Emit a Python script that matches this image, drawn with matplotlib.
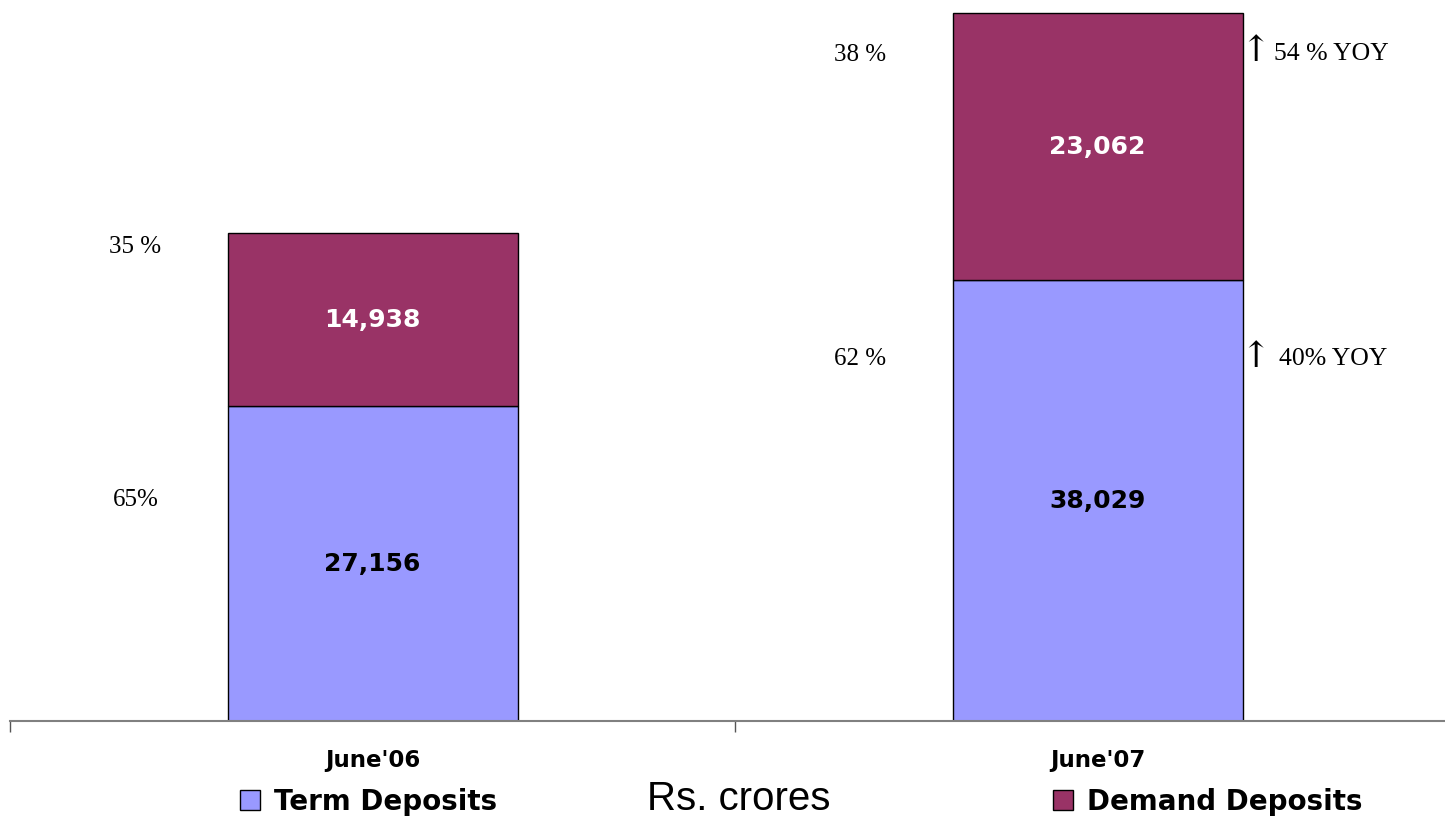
import matplotlib
matplotlib.use("Agg")
import matplotlib.pyplot as plt
from matplotlib.patches import Patch

categories = ["June'06", "June'07"]
term_deposits = [27156, 38029]
demand_deposits = [14938, 23062]
term_share = ["65%", "62 %"]
demand_share = ["35 %", "38 %"]
yoy_term = "40% YOY"
yoy_demand = "54 % YOY"
arrow = "\u2191"

TERM_C = "#9999FF"
DEM_C = "#993366"

W, H = 1445, 817
fig = plt.figure(figsize=(W / 100, H / 100), dpi=100)
ppu = 708 / 61091.0
ylim_top = 62000
ax_h = ylim_top * ppu
base_px = 721
ax = fig.add_axes([10 / W, (H - base_px) / H, 1450 / W, ax_h / H])

x = [0, 1]
ax.bar(x, term_deposits, width=0.4, color=TERM_C, edgecolor="black", linewidth=1.0, zorder=2)
ax.bar(x, demand_deposits, width=0.4, bottom=term_deposits, color=DEM_C,
       edgecolor="black", linewidth=1.0, zorder=2)

ax.set_xlim(-0.5, 1.5)
ax.set_ylim(0, ylim_top)
for s in ["top", "right", "left"]:
    ax.spines[s].set_visible(False)
ax.spines["bottom"].set_color("#808080")
ax.spines["bottom"].set_linewidth(1.5)
ax.set_yticks([])
ax.set_xticks([-0.5, 0.5, 1.5])
ax.set_xticklabels(["", "", ""])
ax.tick_params(axis="x", which="major", length=8, width=1, color="#555555", direction="out")
ax.set_xticks(x, minor=True)
ax.set_xticklabels(categories, minor=True, fontsize=16.5, fontweight="bold", family="DejaVu Sans")
ax.tick_params(axis="x", which="minor", length=0, pad=20)

lab_font = dict(fontsize=18, fontweight="bold", family="DejaVu Sans", ha="center", va="center")
for i in range(2):
    ax.text(x[i], term_deposits[i] / 2, f"{term_deposits[i]:,}", color="black", **lab_font)
    ax.text(x[i], term_deposits[i] + demand_deposits[i] / 2, f"{demand_deposits[i]:,}",
            color="white", **lab_font)

serif = ["Liberation Serif", "DejaVu Serif"]
def yv(py):
    return (base_px - py) / ppu
def xv(px):
    return (px - 373) / 725

share_pos_term = [(xv(136), yv(500)), (xv(861), yv(359))]
share_pos_dem = [(xv(136), yv(247)), (xv(861), yv(55))]
for i in range(2):
    ax.text(*share_pos_term[i], term_share[i], fontsize=18, family=serif, ha="center", va="center")
    ax.text(*share_pos_dem[i], demand_share[i], fontsize=18, family=serif, ha="center", va="center")

# YOY labels right of June'07 bar
ax.text(xv(1256), yv(357), arrow, fontsize=26, family="DejaVu Serif", ha="center", va="center")
ax.text(xv(1279), yv(359), yoy_term, fontsize=18.5, family=serif, ha="left", va="center")
ax.text(xv(1256), yv(51), arrow, fontsize=26, family="DejaVu Serif", ha="center", va="center")
ax.text(xv(1274), yv(54), yoy_demand, fontsize=18.5, family=serif, ha="left", va="center")

leg_font = dict(size=20, weight="bold", family="DejaVu Sans")
h1 = Patch(facecolor=TERM_C, edgecolor="black", linewidth=1.0)
h2 = Patch(facecolor=DEM_C, edgecolor="black", linewidth=1.0)
leg_kw = dict(loc="center left", frameon=False, prop=leg_font, handlelength=0.72,
              handleheight=0.72, handletextpad=0.5, borderaxespad=0, borderpad=0)
fig.legend([h1], ["Term Deposits"], bbox_to_anchor=(240 / W, 1 - 802 / H), **leg_kw)
fig.legend([h2], ["Demand Deposits"], bbox_to_anchor=(1053 / W, 1 - 802 / H), **leg_kw)
fig.text(739 / W, 1 - 799 / H, "Rs. crores", fontsize=29, family=["Liberation Sans", "DejaVu Sans"],
         ha="center", va="center")

fig.savefig("out.png", dpi=100)
